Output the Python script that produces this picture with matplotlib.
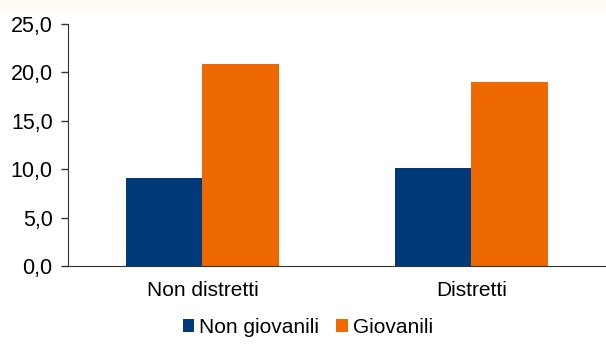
import matplotlib.pyplot as plt
import numpy as np

plt.rcParams['font.family'] = ['Liberation Sans', 'DejaVu Sans']

categories = ["Non distretti", "Distretti"]
non_giovanili = [9.1, 10.1]
giovanili = [20.9, 19.0]
yticks = [0, 5, 10, 15, 20, 25]

fig = plt.figure(figsize=(6.06, 3.51), dpi=100)
# faint strip along the top edge
fig.patches.append(plt.Rectangle((0, 0.965), 1, 0.035, transform=fig.transFigure,
                                 color='#fefbf4', zorder=0))
ax = fig.add_axes([0.1122, 0.2422, 0.8878, 0.6894])
ax.patch.set_alpha(0)

x = np.arange(len(categories))
w = 0.286
ax.bar(x - w/2, non_giovanili, w, color='#003a78', label='Non giovanili')
ax.bar(x + w/2, giovanili, w, color='#ee6a00', label='Giovanili')

ax.set_xlim(-0.5, 1.5)
ax.set_ylim(0, 25)
ax.set_yticks(yticks)
ax.set_yticklabels([f"{v:.1f}".replace('.', ',') for v in yticks], fontsize=15.5)
ax.set_xticks(x)
ax.set_xticklabels(categories, fontsize=15)
ax.tick_params(axis='x', length=0, pad=11)
ax.tick_params(axis='y', length=5, width=1, color='#333333', pad=6)
for s in ['top', 'right']:
    ax.spines[s].set_visible(False)
ax.spines['left'].set_color('#333333')
ax.spines['bottom'].set_color('#333333')

fig.legend(loc='center', bbox_to_anchor=(0.508, 0.068), ncol=2, frameon=False,
           fontsize=15, handlelength=0.55, handleheight=0.55, handletextpad=0.25,
           columnspacing=0.8)

fig.savefig('out.png', dpi=100)
